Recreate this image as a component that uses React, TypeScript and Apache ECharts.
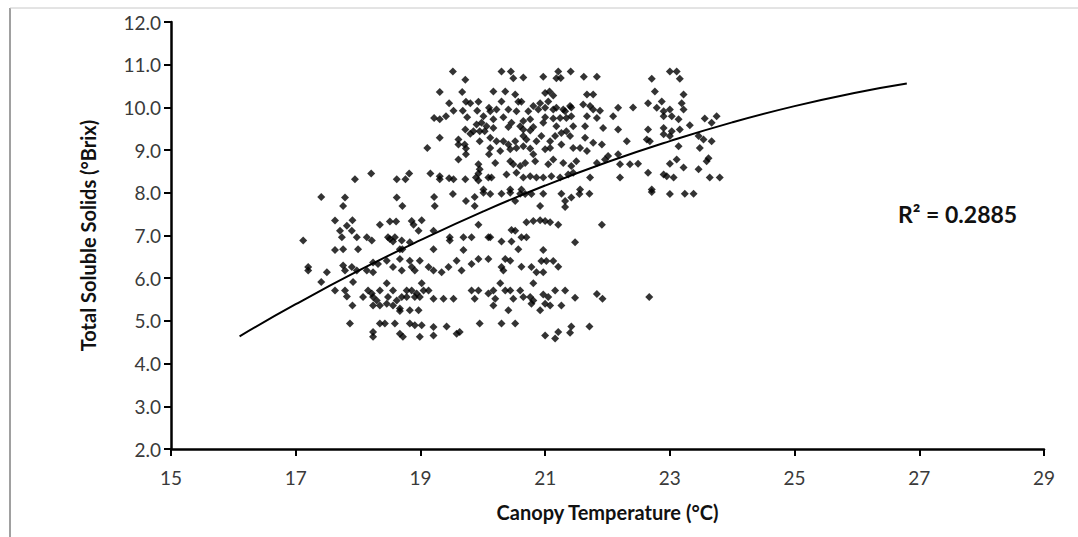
import React, { useEffect, useRef } from "react";
import * as echarts from "echarts";

// Canopy temperature (°C) readings
const tempValues: number[] = [
  19.52, 19.72, 19.31, 19.67, 19.46, 19.73, 19.8, 19.93, 19.53, 19.68, 19.91, 19.22, 19.31, 19.41, 19.75, 20.01, 19.9, 19.98, 20.06, 19.72,
  19.85, 19.95, 19.8, 19.31, 19.61, 19.61, 19.71, 19.73, 19.95, 19.11, 19.61, 19.73, 20.1, 19.93, 19.95, 19.93, 17.95, 18.21, 18.62, 18.76,
  18.82, 19.16, 19.31, 19.31, 19.46, 19.53, 19.72, 19.89, 19.93, 20.09, 20.01, 20.1, 20.03,
  // 20-24 °C upper block
  20.3, 20.45, 21.21, 21.41, 23.0, 23.11,
  20.49, 20.65, 20.97, 21.18, 21.25, 21.62, 21.83, 22.71, 23.16,
  20.17, 20.36, 20.52, 21.0, 21.07, 21.13, 21.67, 21.77, 22.76, 23.22,
  20.3, 20.57, 20.62, 20.92, 21.05, 21.4, 21.29, 21.61, 21.72, 21.77, 21.88, 22.17, 22.41, 22.65, 22.87, 22.79, 22.9, 23.0, 23.19, 23.22,
  20.12, 20.22, 20.41, 20.54, 20.73, 20.81, 20.89, 21.0, 21.13, 21.18, 21.32, 21.42,
  20.17, 20.33, 20.46, 20.65, 20.76, 21.0, 21.13, 21.24, 21.34, 21.42, 21.67, 21.83, 22.09, 22.9, 23.03, 23.14, 23.56, 23.75,
  20.17, 20.41, 20.6, 20.65, 20.76, 20.81, 20.97, 21.18, 21.34, 21.45, 21.64, 21.93, 22.17, 22.65, 22.9, 23.03, 23.16, 23.32, 23.67,
  20.12, 20.22, 20.33, 20.41, 20.52, 20.65, 20.7, 20.86, 20.94, 21.08, 21.16, 21.26, 21.4, 21.64, 21.77, 21.91, 22.31, 22.63, 22.68, 22.9, 23.0, 23.46, 23.54, 23.67,
  20.12, 20.28, 20.44, 20.54, 20.65, 20.76, 20.81, 21.0, 21.08, 21.26, 21.45, 21.56, 21.67, 22.01, 22.17, 23.14, 23.48,
  20.2, 20.44, 20.49, 20.6, 20.68, 20.84, 21.05, 21.13, 21.29, 21.42, 21.5, 21.83, 21.96, 22.2, 22.36, 22.49, 23.0, 23.11, 23.22, 23.46, 23.59, 23.62,
  20.14, 20.38, 20.54, 20.65, 20.76, 20.86, 20.97, 21.1, 21.24, 21.37, 21.45, 21.72, 22.2, 22.65, 22.9, 22.95, 23.06, 23.64, 23.8,
  20.44, 20.62, 21.56, 22.71,
  // 17-20 °C lower block
  17.41, 17.79, 17.76, 18.62, 18.71, 19.22, 19.23, 19.52, 19.73, 19.87, 19.87, 20.01,
  17.63, 17.91, 17.82, 17.71, 17.9, 18.35, 18.51, 18.61, 18.86, 18.89, 19.02,
  17.12, 17.74, 17.98, 18.14, 18.22, 18.48, 18.56, 18.7, 18.83, 18.97, 19.21, 19.47, 19.47, 19.69, 19.82, 19.93, 20.09, 18.51, 18.59,
  17.63, 17.76, 18.0, 18.67, 18.71, 19.21, 19.69,
  17.2, 17.2, 17.5, 17.76, 17.9, 17.79, 17.98, 18.14, 18.24, 18.32, 18.24, 18.46, 18.56, 18.67, 18.7, 18.83, 18.86, 18.91, 18.99, 19.13,
  19.21, 19.34, 19.45, 19.58, 19.66, 19.82, 19.93, 20.09,
  17.41, 17.63, 17.92, 17.79, 17.82, 18.08, 18.16, 18.24, 18.35, 18.46, 18.48, 18.56, 18.7, 18.78, 18.86, 18.94, 18.99, 19.02, 19.13, 19.21,
  19.37, 19.53, 19.82, 19.93, 19.87, 20.09, 18.22, 18.3, 18.62, 18.78, 18.91, 19.05,
  17.91, 18.24, 18.35, 18.46, 18.56, 18.67, 18.67, 18.83, 18.97,
  17.87, 18.35, 18.43, 18.59, 18.83, 18.91, 19.02, 19.21, 19.42, 19.95,
  18.24, 18.24, 18.67, 18.72, 18.99, 19.21, 19.58, 19.63,
  // 20-23 °C lower block
  20.12, 20.3, 20.44, 20.6, 20.68, 20.78, 20.97, 21.26, 21.42, 21.32, 21.55, 21.71, 22.71, 23.0, 23.24, 23.38,
  20.52, 20.92, 21.32,
  20.7, 20.81, 20.92, 21.0, 21.08, 21.21, 21.91,
  20.46, 20.52, 20.12, 20.3, 20.46, 20.62, 20.7, 21.48,
  20.57, 20.97,
  20.36, 20.44, 20.3, 20.33, 20.62, 20.78, 20.86, 20.97, 20.94, 21.02, 21.13, 21.21,
  20.28, 20.81,
  20.17, 20.36, 20.44, 20.49, 20.6, 20.65, 20.76, 20.81, 20.97, 21.05, 21.16, 21.32, 21.48, 21.83, 21.92, 22.67, 20.2,
  20.17, 20.78, 21.0, 21.08, 21.26, 20.92, 20.41,
  20.3, 20.52, 21.42, 21.71, 21.21, 21.4, 21.0, 21.16,
];

// Total soluble solids (°Brix) readings, paired with tempValues
const brixValues: number[] = [
  10.84, 10.65, 10.36, 10.36, 10.1, 10.13, 10.1, 10.13, 9.92, 9.92, 9.92, 9.75, 9.72, 9.79, 9.77, 9.79, 9.6, 9.64, 9.56, 9.48,
  9.44, 9.44, 9.38, 9.29, 9.25, 9.13, 9.13, 9.04, 9.21, 9.05, 8.78, 8.9, 8.9, 8.67, 8.55, 8.45, 8.32, 8.45, 8.32, 8.32,
  8.45, 8.45, 8.39, 8.32, 8.34, 8.32, 8.32, 8.36, 8.29, 8.36, 8.08, 9.99, 9.44,
  10.84, 10.84, 10.84, 10.84, 10.84, 10.84,
  10.68, 10.7, 10.72, 10.68, 10.69, 10.72, 10.72, 10.67, 10.67,
  10.37, 10.37, 10.3, 10.34, 10.37, 10.28, 10.3, 10.3, 10.37, 10.3,
  10.14, 10.13, 10.13, 10.1, 10.14, 10.03, 9.95, 10.07, 10.03, 9.95, 9.92, 9.99, 10.0, 10.1, 10.14, 9.99, 9.91, 9.95, 10.1, 9.95,
  9.91, 9.95, 9.95, 9.91, 9.91, 10.03, 9.95, 9.99, 9.95, 9.99, 9.91, 10.0,
  9.72, 9.77, 9.64, 9.68, 9.72, 9.77, 9.74, 9.75, 9.75, 9.79, 9.79, 9.75, 9.79, 9.79, 9.79, 9.72, 9.74, 9.79,
  9.52, 9.54, 9.56, 9.48, 9.46, 9.54, 9.64, 9.56, 9.44, 9.56, 9.56, 9.52, 9.48, 9.48, 9.52, 9.44, 9.48, 9.58, 9.64,
  9.29, 9.21, 9.21, 9.13, 9.21, 9.33, 9.25, 9.21, 9.33, 9.21, 9.33, 9.4, 9.33, 9.29, 9.17, 9.13, 9.21, 9.25, 9.21, 9.37, 9.33, 9.33, 9.25, 9.21,
  9.05, 8.98, 9.02, 9.05, 9.09, 9.04, 8.9, 9.02, 9.05, 9.13, 9.05, 9.05, 8.98, 8.86, 8.9, 9.09, 9.05,
  8.7, 8.74, 8.67, 8.63, 8.7, 8.74, 8.67, 8.78, 8.7, 8.63, 8.74, 8.7, 8.78, 8.67, 8.67, 8.68, 8.68, 8.78, 8.59, 8.55, 8.74, 8.81,
  8.36, 8.43, 8.47, 8.36, 8.39, 8.36, 8.36, 8.39, 8.36, 8.43, 8.47, 8.36, 8.36, 8.47, 8.43, 8.39, 8.36, 8.36, 8.36,
  8.08, 8.08, 8.08, 8.08,
  7.9, 7.89, 7.69, 7.89, 7.69, 7.9, 7.69, 7.97, 7.81, 7.9, 7.69, 8.0,
  7.35, 7.36, 7.23, 7.11, 7.11, 7.25, 7.33, 7.33, 7.34, 7.25, 7.36,
  6.88, 6.96, 6.96, 6.96, 6.88, 6.96, 6.86, 6.88, 6.84, 7.11, 7.11, 6.96, 6.88, 6.96, 6.96, 7.25, 6.96, 6.92, 6.96,
  6.66, 6.68, 6.68, 6.68, 6.68, 6.68, 6.66,
  6.26, 6.18, 6.14, 6.3, 6.26, 6.18, 6.18, 6.18, 6.37, 6.33, 6.14, 6.41, 6.26, 6.45, 6.18, 6.41, 6.26, 6.18, 6.41, 6.26,
  6.18, 6.14, 6.26, 6.41, 6.18, 6.33, 6.45, 6.45,
  5.91, 5.71, 5.91, 5.71, 5.57, 5.56, 5.71, 5.56, 5.71, 5.88, 5.56, 5.71, 5.56, 5.71, 5.71, 5.64, 5.56, 5.88, 5.71, 5.52,
  5.52, 5.52, 5.71, 5.71, 5.52, 5.64, 5.64, 5.48, 5.48, 5.56, 5.56, 5.71,
  5.36, 5.36, 5.36, 5.4, 5.36, 5.29, 5.23, 5.25, 5.25,
  4.94, 4.94, 4.94, 4.94, 4.94, 4.9, 4.9, 4.86, 4.87, 4.94,
  4.74, 4.63, 4.7, 4.63, 4.63, 4.66, 4.7, 4.74,
  7.97, 7.98, 8.0, 7.98, 7.97, 7.97, 7.98, 7.98, 7.89, 7.81, 7.97, 7.98, 8.02, 7.97, 7.98, 7.98,
  7.81, 7.69, 7.67,
  7.31, 7.34, 7.36, 7.34, 7.31, 7.25, 7.25,
  7.13, 7.11, 6.96, 6.86, 6.86, 6.96, 6.96, 6.84,
  6.68, 6.66,
  6.45, 6.41, 6.26, 6.18, 6.27, 6.26, 6.14, 6.14, 6.4, 6.4, 6.4, 6.27,
  5.88, 5.88,
  5.71, 5.71, 5.71, 5.52, 5.71, 5.56, 5.56, 5.48, 5.62, 5.56, 5.71, 5.71, 5.54, 5.63, 5.52, 5.56, 5.52,
  5.36, 5.4, 5.4, 5.36, 5.36, 5.25, 5.25,
  4.94, 4.94, 4.87, 4.87, 4.74, 4.72, 4.66, 4.59,
];

// Fitted trend curve
const trendTemps: number[] = [16.1, 17, 18, 19, 20, 21, 22, 23, 24, 25, 26, 26.8];
const trendBrix: number[] = [4.64, 5.39, 6.17, 6.89, 7.56, 8.17, 8.72, 9.21, 9.65, 10.03, 10.35, 10.56];

const xTicks = { min: 15, max: 29, interval: 2 };
const yTicks = { min: 2, max: 12, interval: 1 };
const r2Label = "R² = 0.2885";
const xTitle = "Canopy Temperature (°C)";
const yTitle = "Total Soluble Solids (°Brix)";

export default function App() {
  const ref = useRef<HTMLDivElement>(null);
  useEffect(() => {
    if (!ref.current) return;
    const chart = echarts.init(ref.current, null, { renderer: "svg" });
    const n = Math.min(tempValues.length, brixValues.length);
    const points: number[][] = [];
    for (let i = 0; i < n; i++) points.push([tempValues[i], brixValues[i]]);
    const trend = trendTemps.map((t, i) => [t, trendBrix[i]]);
    const font = "Lato, 'Open Sans', sans-serif";
    chart.setOption({
      animation: false,
      backgroundColor: "#ffffff",
      grid: { left: 171, right: 34, top: 22, bottom: 88 },
      xAxis: {
        type: "value",
        min: xTicks.min,
        max: xTicks.max,
        interval: xTicks.interval,
        name: xTitle,
        nameLocation: "middle",
        nameGap: 53,
        nameTextStyle: { fontFamily: font, fontWeight: "bold", fontSize: 20, color: "#111" },
        axisLine: { lineStyle: { color: "#000", width: 2.5 } },
        axisTick: { show: true, inside: false, length: 7, lineStyle: { color: "#000", width: 2 } },
        axisLabel: { fontFamily: font, fontSize: 19, color: "#3a3a3a", margin: 19 },
        splitLine: { show: false },
      },
      yAxis: {
        type: "value",
        min: yTicks.min,
        max: yTicks.max,
        interval: yTicks.interval,
        name: yTitle,
        nameLocation: "middle",
        nameGap: 73,
        nameTextStyle: { fontFamily: font, fontWeight: "bold", fontSize: 20, color: "#111" },
        axisLine: { show: true, lineStyle: { color: "#000", width: 2.5 } },
        axisTick: { show: true, inside: false, length: 7, lineStyle: { color: "#000", width: 2 } },
        axisLabel: {
          fontFamily: font,
          fontSize: 19,
          color: "#3a3a3a",
          margin: 10,
          formatter: (v: number) => v.toFixed(1),
        },
        splitLine: { show: false },
      },
      series: [
        {
          type: "scatter",
          data: points,
          symbol: "diamond",
          symbolSize: 8,
          itemStyle: { color: "#000" },
          z: 2,
        },
        {
          type: "line",
          data: trend,
          smooth: true,
          showSymbol: false,
          symbol: "none",
          lineStyle: { color: "#000", width: 2 },
          z: 3,
        },
      ],
      graphic: [
        {
          type: "text",
          left: 898,
          top: 202,
          style: { text: r2Label, fontFamily: font, fontWeight: "bold", fontSize: 23, fill: "#111" },
        },
        {
          type: "line",
          shape: { x1: 10, y1: 8, x2: 10, y2: 537 },
          style: { stroke: "#a0a0a0", lineWidth: 2 },
        },
        {
          type: "line",
          shape: { x1: 10, y1: 8, x2: 1078, y2: 8 },
          style: { stroke: "#c8c8c8", lineWidth: 1 },
        },
      ],
    });
    return () => chart.dispose();
  }, []);
  return (
    <div
      ref={ref}
      style={{ position: "fixed", left: 0, top: 0, width: 1078, height: 537, background: "#fff" }}
    />
  );
}
